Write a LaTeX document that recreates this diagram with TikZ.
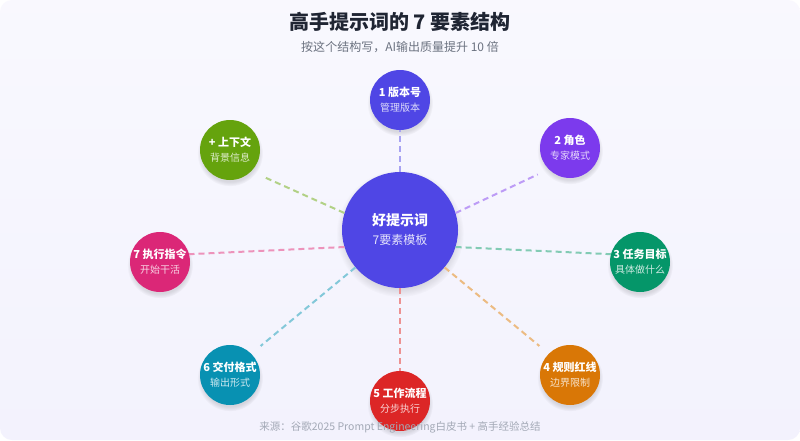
\documentclass[tikz,border=0pt]{standalone}
\usepackage{fontspec}
\setmainfont{Noto Sans CJK SC}
\usetikzlibrary{shadows}

\definecolor{colhub}{HTML}{4F46E5}
\definecolor{colversion}{HTML}{4F46E5}
\definecolor{colrole}{HTML}{7C3AED}
\definecolor{coltask}{HTML}{059669}
\definecolor{colrules}{HTML}{D97706}
\definecolor{colsteps}{HTML}{DC2626}
\definecolor{colformat}{HTML}{0891B2}
\definecolor{colaction}{HTML}{DB2777}
\definecolor{colcontext}{HTML}{65A30D}
\definecolor{titlegray}{HTML}{1F2533}
\definecolor{subgray}{HTML}{6B7280}
\definecolor{notegray}{HTML}{A3A9B6}

\begin{document}
\begin{tikzpicture}[x=1pt, y=-1pt,
  leaf/.style={circle, minimum size=60pt, inner sep=0pt, text=white, align=center,
    font=\fontsize{10}{15}\selectfont,
    circular drop shadow={shadow xshift=0pt, shadow yshift=-3pt, opacity=0.12, fill=black}},
  hub/.style={leaf, minimum size=116pt, font=\fontsize{12}{19}\selectfont},
  link/.style={dash pattern=on 6pt off 4pt, line width=2pt}]
  % card
  \fill[white] (0,0) rectangle (800,440);
  \shade[rounded corners=12pt, top color=white!40!colhub!6, bottom color=colhub!7!white]
    (0,0) rectangle (800,440);
  \useasboundingbox (0,0) rectangle (800,440);
  % heading
  \node[text=titlegray, font=\bfseries\fontsize{20}{24}\selectfont] (title) at (400,22) {高手提示词的 7 要素结构};
  \node[text=subgray, font=\fontsize{12}{15}\selectfont] (subtitle) at (400,47) {按这个结构写，AI输出质量提升 10 倍};
  % hub
  \node[hub, fill=colhub] (hub) at (400,230)
    {\textbf{\fontsize{14}{19}\selectfont 好提示词}\\{\color{white!85!colhub}7要素模板}};
  % the seven parts
  \foreach \name/\x/\y/\title/\sub in {
    version/400/100/1 版本号/管理版本,
    role/570/148/2 角色/专家模式,
    task/640/262/3 任务目标/具体做什么,
    rules/570/375/4 规则红线/边界限制,
    steps/400/401/5 工作流程/分步执行,
    format/230/375/6 交付格式/输出形式,
    action/160/262/7 执行指令/开始干活,
    context/230/150/+ 上下文/背景信息}{
    \node[leaf, fill=col\name] (\name) at (\x,\y)
      {\textbf{\fontsize{11}{15}\selectfont \title}\\{\color{white!80!col\name}\sub}};
  }
  % dashed spokes
  \foreach \name/\from/\to/\gap in {version/90/-90/0, role/17/225/12, task/-17/165/0,
    rules/-40/135/12, steps/-90/90/0, format/220/45/12, action/197/15/0, context/163/-45/12}{
    \draw[link, draw=col\name!50!white, shorten >=\gap pt] (hub.\from) -- (\name.\to);
  }
  % source note
  \node[text=notegray, font=\fontsize{10.5}{13}\selectfont] (source) at (400,427)
    {来源：谷歌2025 Prompt Engineering白皮书 + 高手经验总结};
\end{tikzpicture}
\end{document}
